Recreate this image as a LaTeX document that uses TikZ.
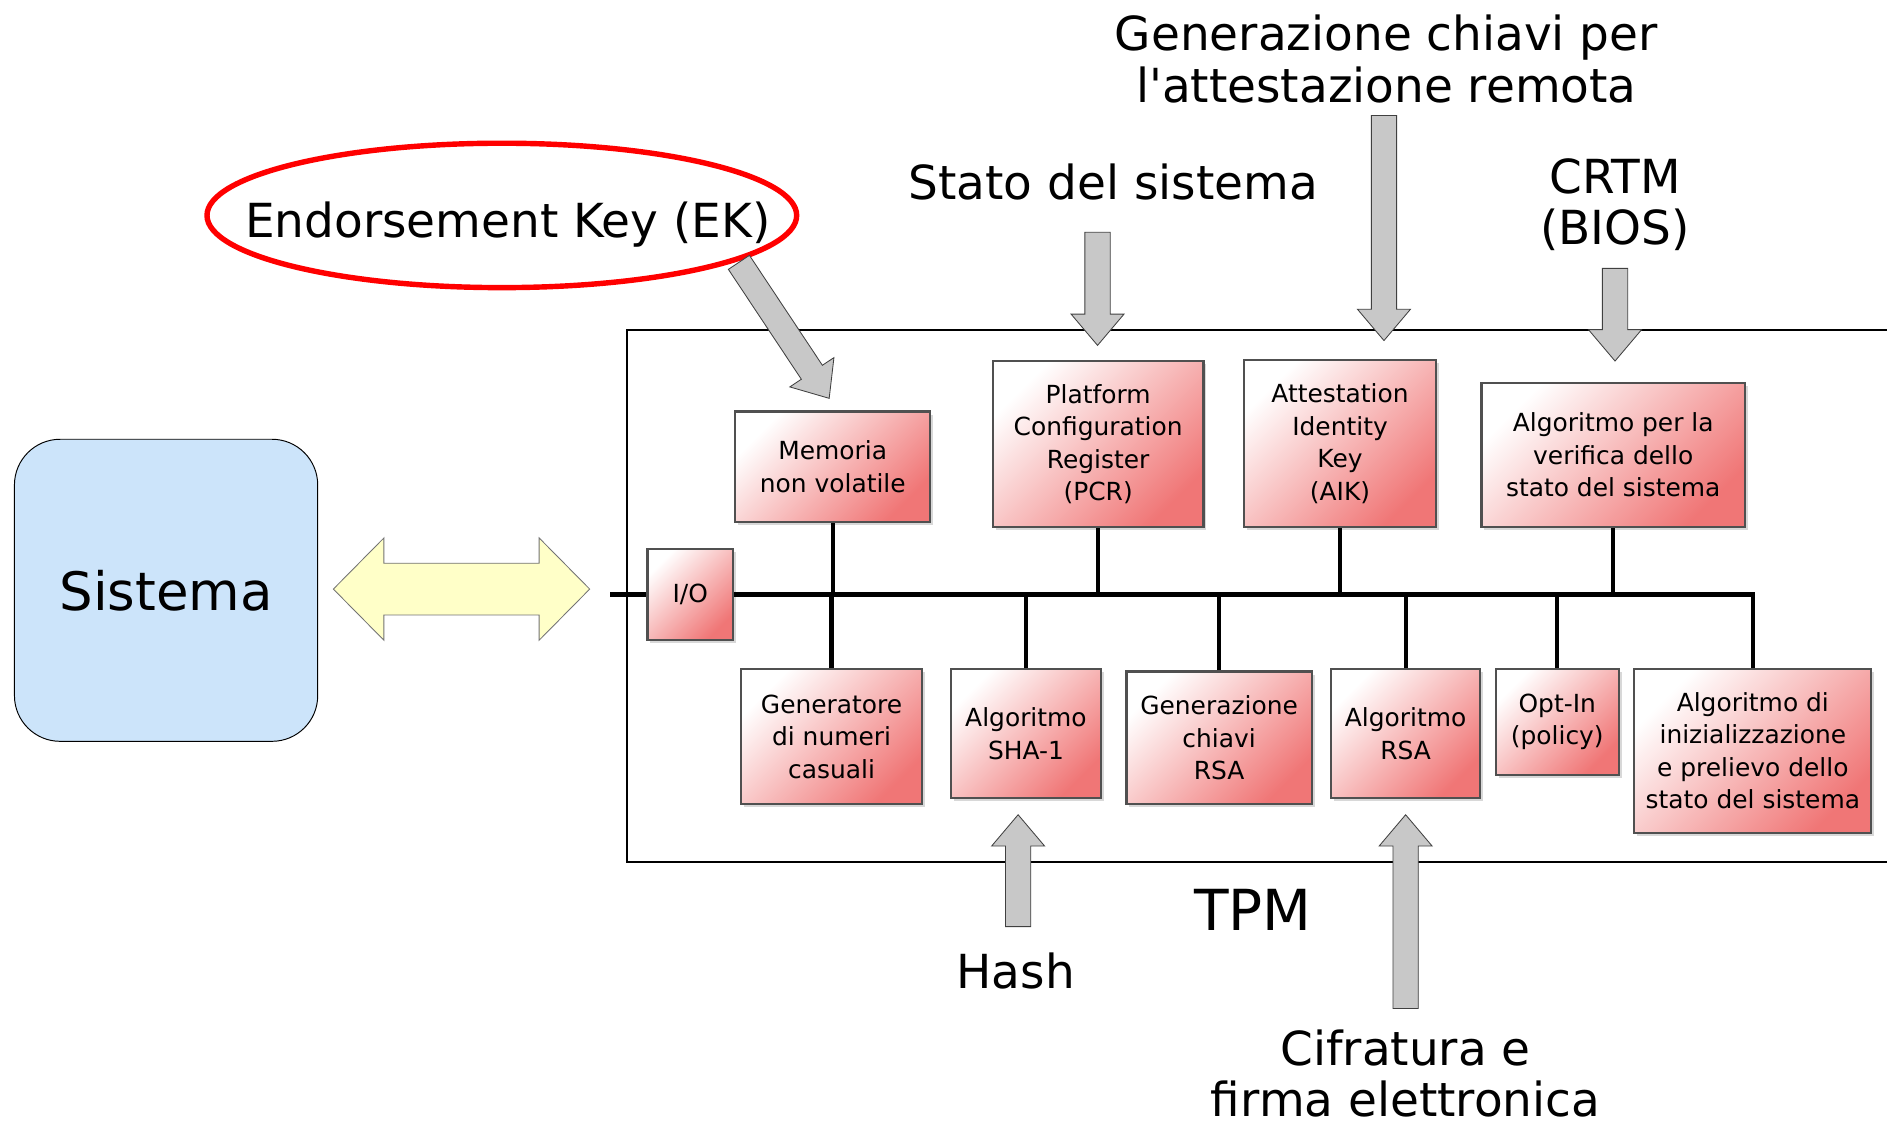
\documentclass[tikz,border=0pt]{standalone}
\usepackage{fontspec}
\setmainfont{DejaVu Sans}
\usetikzlibrary{calc,shadows}

\definecolor{boxred}{RGB}{240,118,118}
\definecolor{boxedge}{RGB}{80,80,80}
\definecolor{sysblue}{RGB}{204,228,250}
\definecolor{ioyellow}{RGB}{255,255,200}
\definecolor{arrowgray}{RGB}{200,200,200}

\tikzset{
  block/.style={draw=boxedge, line width=1.8pt, top color=white, bottom color=boxred, shading angle=45,
    align=center, inner sep=0pt, font=\fontsize{20.7}{27}\selectfont,
    drop shadow={shadow xshift=2.5pt, shadow yshift=-2.5pt, opacity=0.3}},
  bigtext/.style={align=center, inner sep=0pt, font=\fontsize{39}{43}\selectfont},
  bus/.style={line width=3.5pt, line join=miter},
  grayarrow/.style={fill=arrowgray, draw=black!75, line width=0.7pt, line join=miter},
  dblarrow/.style={fill=ioyellow, draw=black!55, line width=0.7pt, line join=miter},
}

\newcommand{\fatarrow}[2]{%
  \coordinate (fab) at ($(#2)!26pt!(#1)$);
  \draw[grayarrow] ($(#1)!10.5pt!90:(#2)$) -- ($(fab)!10.5pt!90:(#2)$) -- ($(fab)!22pt!90:(#2)$) -- (#2)
    -- ($(fab)!22pt!-90:(#2)$) -- ($(fab)!10.5pt!-90:(#2)$) -- ($(#1)!10.5pt!-90:(#2)$) -- cycle;}

\begin{document}
\begin{tikzpicture}[x=1pt,y=-1pt]
\fill[white] (0,0) rectangle (1568,936);
\useasboundingbox (0,0) rectangle (1568,936);

\draw[line width=1.5pt] (1568,274) -- (521,274) -- (521,716) -- (1568,716);

\node[draw=black, line width=0.8pt, fill=sysblue, rounded corners=38pt, minimum width=252pt, minimum height=251pt,
  font=\fontsize{44}{50}\selectfont] (sys) at (138,490.5) {Sistema};
\draw[dblarrow] (277,489.5) -- (319,447) -- (319,468) -- (448,468) -- (448,447) -- (490,489.5)
  -- (448,532) -- (448,511) -- (319,511) -- (319,532) -- cycle;

\node[bigtext] (tEK) at (422,187) {Endorsement Key (EK)};
\draw[red, line width=4.5pt] (417,179) ellipse [x radius=245pt, y radius=60pt];
\node[bigtext] (tStato) at (925,151) {Stato del sistema};
\node[bigtext] (tAik) at (1152,49) {Generazione chiavi per\\l\textquotesingle attestazione remota};
\node[bigtext] (tCrtm) at (1342,170) {CRTM\\(BIOS)};
\node[bigtext] (tHash) at (844,807) {Hash};
\node[bigtext] (tCifra) at (1168,892) {Cifratura e\\firma elettronica};
\node[inner sep=0pt, font=\fontsize{47}{50}\selectfont] (tTpm) at (1041,756) {TPM};

\node[block, minimum width=71pt, minimum height=75pt] (io) at (573.5,494) {I/O};
\node[block, minimum width=162pt, minimum height=92pt] (mem) at (692,388) {Memoria\\non volatile};
\node[block, minimum width=175pt, minimum height=138pt] (pcr) at (912.5,369) {Platform\\Configuration\\Register\\(PCR)};
\node[block, minimum width=159pt, minimum height=139pt] (aik) at (1113.5,368.5) {Attestation\\Identity\\Key\\(AIK)};
\node[block, minimum width=219pt, minimum height=120pt] (ver) at (1340.5,378) {Algoritmo per la\\verifica dello\\stato del sistema};
\node[block, minimum width=150pt, minimum height=112pt] (rng) at (691,612) {Generatore\\di numeri\\casuali};
\node[block, minimum width=125pt, minimum height=107pt] (sha) at (852.5,609.5) {Algoritmo\\SHA-1};
\node[block, minimum width=154pt, minimum height=110pt] (rsagen) at (1013,613) {Generazione\\chiavi\\RSA};
\node[block, minimum width=124pt, minimum height=107pt] (rsa) at (1168,609.5) {Algoritmo\\RSA};
\node[block, minimum width=102pt, minimum height=88pt] (optin) at (1294,600) {Opt-In\\(policy)};
\node[block, minimum width=197pt, minimum height=136pt] (init) at (1456.5,624) {Algoritmo di\\inizializzazione\\e prelievo dello\\stato del sistema};

\coordinate (busL) at (507,494);
\draw[bus] (busL) -- (io.west |- busL);
\draw[bus] (io.east |- busL) -- (init.north |- busL) -- (init.north);
\foreach \b in {mem,pcr,aik,ver}
  \draw[bus] (\b.south) -- (\b.south |- busL);
\foreach \b in {rng,sha,rsagen,rsa,optin}
  \draw[bus] (\b.north) -- (\b.north |- busL);

\coordinate (ekTail) at (614,218);
\coordinate (ekTip) at (689,331);
\coordinate (statoTail) at (912,193);
\coordinate (statoTip) at (912,287);
\coordinate (aikTail) at (1150,96);
\coordinate (aikTip) at (1150,283);
\coordinate (crtmTail) at (1342,223);
\coordinate (crtmTip) at (1342,300);
\coordinate (hashTail) at (846,770);
\coordinate (hashTip) at (846,677);
\coordinate (cifraTail) at (1168,838);
\coordinate (cifraTip) at (1168,677);
\fatarrow{ekTail}{ekTip}
\fatarrow{statoTail}{statoTip}
\fatarrow{aikTail}{aikTip}
\fatarrow{crtmTail}{crtmTip}
\fatarrow{hashTail}{hashTip}
\fatarrow{cifraTail}{cifraTip}
\end{tikzpicture}
\end{document}
